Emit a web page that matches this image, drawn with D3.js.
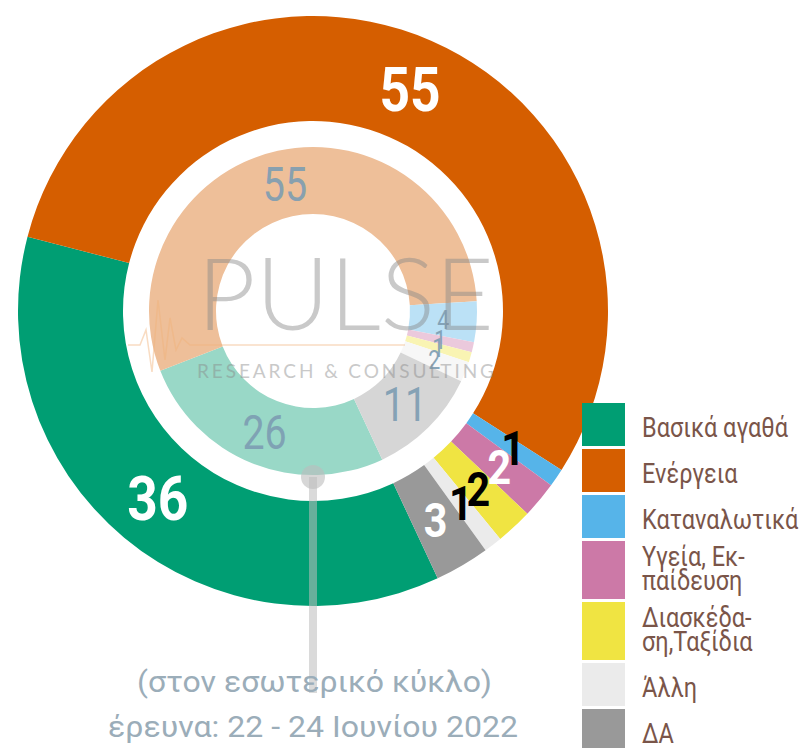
<!DOCTYPE html>
<html>
<head>
<meta charset="utf-8">
<script src="https://cdn.jsdelivr.net/npm/d3@7"></script>
<style>
  body { margin: 0; background: #fff; }
  svg { display: block; font-family: Roboto, "Noto Sans", sans-serif; }
</style>
</head>
<body>
<div id="chart"></div>
<script>
// categories and values (outer = main survey, inner = previous survey)
const categories = ["Βασικά αγαθά", "Ενέργεια", "Καταναλωτικά", "Υγεία, Εκπαίδευση", "Διασκέδαση,Ταξίδια", "Άλλη", "ΔΑ"];
const outerValues = [36, 55, 1, 2, 2, 1, 3];
const innerValues = [26, 55, 4, 1, 1, 2, 11];
const colors = ["#009E73", "#D55E00", "#56B4E9", "#CC79A7", "#F0E442", "#EBEBEB", "#999999"];
const labelInk = ["#fff", "#fff", "#000", "#fff", "#000", "#000", "#fff"];
const legendLines = [["Βασικά αγαθά"], ["Ενέργεια"], ["Καταναλωτικά"], ["Υγεία, Εκ-", "παίδευση"], ["Διασκέδα-", "ση,Ταξίδια"], ["Άλλη"], ["ΔΑ"]];
const noteLine1 = "(στον εσωτερικό κύκλο)";
const noteLine2 = "έρευνα:  22 - 24 Ιουνίου 2022";

const width = 806, height = 748;
const cx = 313, cy = 311;

const svg = d3.select("#chart").append("svg")
  .attr("width", width)
  .attr("height", height);

const g = svg.append("g").attr("transform", `translate(${cx},${cy})`);

const start = 155 * Math.PI / 180;
const pie = d3.pie().sort(null).value(d => d.v)
  .startAngle(start).endAngle(start + 2 * Math.PI);

const outerData = pie(categories.map((c, i) => ({ c, i, v: outerValues[i] })));
const innerData = pie(categories.map((c, i) => ({ c, i, v: innerValues[i] })));

const outerArc = d3.arc().innerRadius(190).outerRadius(295);
const innerArc = d3.arc().innerRadius(97).outerRadius(164);

const light = c => d3.interpolateRgb("#fff", c)(0.4);

g.selectAll("path.outer")
  .data(outerData)
  .join("path")
  .attr("class", "outer")
  .attr("d", outerArc)
  .attr("fill", d => colors[d.data.i]);

g.selectAll("path.inner")
  .data(innerData)
  .join("path")
  .attr("class", "inner")
  .attr("d", innerArc)
  .attr("fill", d => light(colors[d.data.i]));

// watermark
const wm = svg.append("g").attr("opacity", 0.45);
wm.append("path")
  .attr("d", "M128,345 L140,345 L146,330 L152,372 L158,300 L165,360 L170,318 L176,350 L182,338 L190,345 L405,345")
  .attr("fill", "none")
  .attr("stroke", "#f2b27a")
  .attr("stroke-width", 1.5);
wm.append("text")
  .attr("x", 197).attr("y", 330)
  .attr("textLength", 297).attr("lengthAdjust", "spacingAndGlyphs")
  .style("font-family", "Lato, sans-serif")
  .style("font-weight", 300)
  .style("font-size", "100px")
  .attr("fill", "#888")
  .text("PULSE");
wm.append("text")
  .attr("x", 197).attr("y", 378)
  .attr("textLength", 297).attr("lengthAdjust", "spacing")
  .style("font-family", "Lato, sans-serif")
  .style("font-size", "19px")
  .attr("fill", "#888")
  .text("RESEARCH & CONSULTING");

// outer labels
g.selectAll("text.outer")
  .data(outerData)
  .join("text")
  .attr("class", "outer")
  .attr("transform", d => {
    const [x, y] = outerArc.centroid(d);
    return `translate(${x},${y}) scale(0.86,1)`;
  })
  .attr("text-anchor", "middle")
  .attr("dy", "0.36em")
  .style("font-weight", 700)
  .style("font-size", d => (d.data.v > 10 ? 62 : 48) + "px")
  .attr("fill", d => labelInk[d.data.i])
  .text(d => d.data.v);

// inner labels
g.selectAll("text.inner")
  .data(innerData)
  .join("text")
  .attr("class", "inner")
  .attr("transform", d => {
    const [x, y] = innerArc.centroid(d);
    return `translate(${x},${y}) scale(0.82,1)`;
  })
  .attr("text-anchor", "middle")
  .attr("dy", "0.36em")
  .style("font-size", d => (d.data.v > 5 ? 48 : 26) + "px")
  .attr("fill", "#7d9db2")
  .attr("opacity", 0.9)
  .text(d => d.data.v);

// leader from inner ring to note
const lead = innerArc.centroid(innerData[0]);
svg.append("line")
  .attr("x1", cx).attr("x2", cx)
  .attr("y1", 477).attr("y2", 693)
  .attr("stroke", "#bdbdbd")
  .attr("stroke-width", 8)
  .attr("opacity", 0.55);
svg.append("circle")
  .attr("cx", cx).attr("cy", 477).attr("r", 12)
  .attr("fill", "#bdbdbd")
  .attr("opacity", 0.6);

svg.append("text")
  .attr("x", 137).attr("y", 692)
  .attr("textLength", 355).attr("lengthAdjust", "spacingAndGlyphs")
  .style("font-size", "30px")
  .attr("fill", "#9badb9")
  .text(noteLine1);
svg.append("text")
  .attr("x", 108).attr("y", 737)
  .attr("textLength", 410).attr("lengthAdjust", "spacingAndGlyphs")
  .style("font-size", "30px")
  .attr("fill", "#9badb9")
  .text(noteLine2);

// legend
const legend = svg.append("g").attr("transform", "translate(582,403)");
let ly = 0;
legendLines.forEach((lines, i) => {
  const h = lines.length > 1 ? 58 : 43;
  legend.append("rect")
    .attr("x", 0).attr("y", ly)
    .attr("width", 43).attr("height", h)
    .attr("fill", colors[i]);
  lines.forEach((t, k) => {
    const base = lines.length > 1 ? ly + 25 + k * 24 : ly + 34;
    legend.append("text")
      .attr("transform", `translate(60,${base}) scale(0.84,1)`)
      .style("font-size", "28px")
      .attr("fill", "#7a5549")
      .text(t);
  });
  ly += h + 3;
});
</script>
</body>
</html>
